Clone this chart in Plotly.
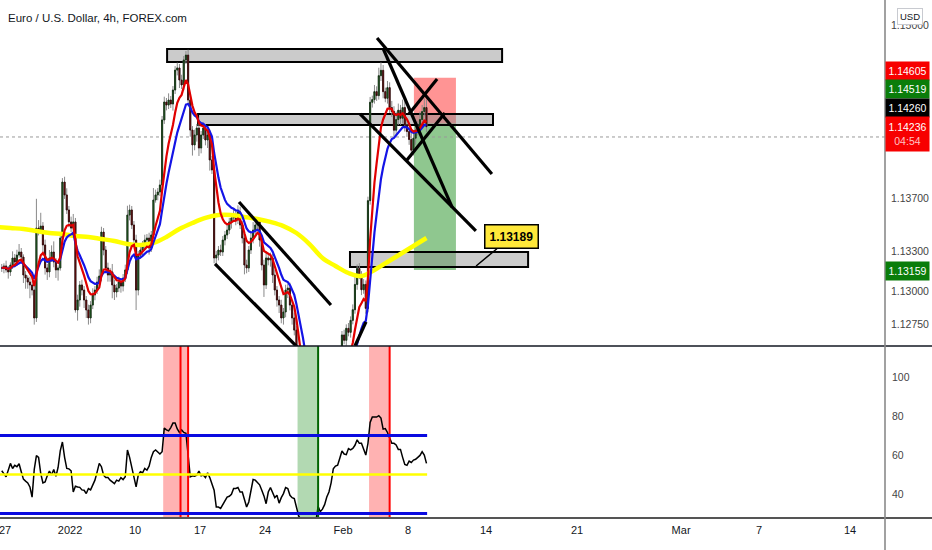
import numpy as np
import plotly.graph_objects as go

# ---------------- data ----------------
FIRST_BAR = -2          # index of first 4h bar (bar 0 = 27 Dec 00:00)
BARS_PER_DAY = 6
PIP = 0.0001

closes = [
    1.13174, 1.13189, 1.13159, 1.13144, 1.13196, 1.13249, 1.13219, 1.13271, 1.13294, 1.13256,
    1.13121, 1.13098, 1.13068, 1.13046, 1.13008, 1.12798, 1.13474, 1.13459, 1.13489, 1.13347,
    1.13174, 1.13144, 1.13249, 1.13294, 1.13219, 1.13159, 1.13174, 1.13399, 1.13820, 1.13723,
    1.13610, 1.13520, 1.13474, 1.13520, 1.12858, 1.12933, 1.13046, 1.13008, 1.12933, 1.12858,
    1.12798, 1.12895, 1.12971, 1.13008, 1.13068, 1.13113, 1.13444, 1.13309, 1.13174, 1.13121,
    1.13144, 1.13046, 1.12993, 1.13023, 1.13068, 1.13038, 1.13098, 1.13159, 1.13572, 1.13610,
    1.13497, 1.13384, 1.13008, 1.13271, 1.13309, 1.13347, 1.13384, 1.13399, 1.13324, 1.13422,
    1.13685, 1.13723, 1.13745, 1.13798, 1.14287, 1.14422, 1.14399, 1.14437, 1.14407, 1.14512,
    1.14662, 1.14678, 1.14587, 1.14550, 1.14738, 1.14775, 1.14437, 1.14211, 1.14099, 1.14174,
    1.14226, 1.14076, 1.14174, 1.14226, 1.14136, 1.14174, 1.13986, 1.13911, 1.13249, 1.13271,
    1.13309, 1.13294, 1.13384, 1.13422, 1.13459, 1.13520, 1.13550, 1.13572, 1.13535, 1.13595,
    1.13497, 1.13399, 1.13196, 1.13174, 1.13309, 1.13399, 1.13459, 1.13497, 1.13520, 1.13384,
    1.13196, 1.13046, 1.13249, 1.13234, 1.13249, 1.13121, 1.13008, 1.12933, 1.12895, 1.12798,
    1.12843, 1.13008, 1.13023, 1.12895, 1.12798, 1.12707, 1.12450, 1.12320, 1.12200, 1.12050,
    1.11900, 1.11720, 1.11600, 1.11450, 1.11500, 1.11350, 1.11250, 1.11400, 1.11500, 1.11450,
    1.11600, 1.11750, 1.11900, 1.12100, 1.12250, 1.12400, 1.12550, 1.12670, 1.12630, 1.12720,
    1.12690, 1.12780, 1.12860, 1.13050, 1.13170, 1.13120, 1.13010, 1.13050, 1.12870, 1.13680,
    1.14420, 1.14440, 1.14500, 1.14470, 1.14620, 1.14660, 1.14500, 1.14450, 1.14530, 1.14380,
    1.14350, 1.14210, 1.14290, 1.14360, 1.14300, 1.14380, 1.14250, 1.14200, 1.14140, 1.14060,
    1.14150, 1.14210, 1.14230, 1.14290, 1.14350, 1.14380, 1.14236,
]

wick_up_pips = [
    3, 2, 4, 3, 2, 5, 3, 4, 6, 3,
    2, 3, 2, 4, 3, 4, 22, 6, 10, 3,
    4, 3, 6, 5, 8, 3, 2, 3, 3, 4,
    5, 3, 4, 6, 3, 4, 3, 4, 3, 3,
    4, 3, 5, 3, 4, 5, 4, 3, 3, 4,
    3, 6, 4, 3, 4, 3, 3, 4, 7, 4,
    3, 3, 4, 3, 5, 3, 4, 3, 4, 3,
    9, 4, 3, 4, 3, 4, 3, 5, 3, 3,
    3, 4, 3, 4, 3, 3, 4, 3, 3, 4,
    3, 4, 3, 4, 3, 3, 4, 3, 4, 3,
    3, 4, 3, 3, 4, 3, 3, 4, 3, 5,
    4, 3, 3, 4, 3, 4, 6, 4, 3, 3,
    3, 4, 5, 3, 4, 3, 4, 3, 3, 4,
    3, 4, 3, 4, 3, 4, 3, 3, 4, 3,
    3, 4, 3, 4, 3, 4, 3, 4, 3, 4,
    3, 4, 3, 4, 3, 4, 3, 3, 4, 3,
    4, 3, 4, 6, 3, 4, 3, 4, 3, 3,
    4, 3, 5, 4, 6, 6, 4, 3, 5, 4,
    5, 4, 6, 5, 4, 6, 5, 4, 6, 5,
    6, 7, 5, 6, 5, 7, 6,
]
wick_dn_pips = [
    3, 4, 2, 5, 3, 3, 4, 3, 2, 4,
    6, 8, 5, 10, 4, 5, 3, 4, 3, 8,
    5, 6, 4, 3, 4, 6, 8, 2, 3, 3,
    3, 4, 3, 3, 2, 8, 5, 4, 6, 6,
    5, 4, 3, 4, 3, 3, 4, 4, 3, 5,
    5, 10, 6, 4, 3, 5, 4, 3, 3, 4,
    3, 4, 15, 4, 3, 4, 3, 3, 5, 3,
    3, 2, 4, 3, 4, 3, 4, 3, 3, 5,
    3, 4, 6, 3, 4, 3, 4, 5, 8, 4,
    5, 6, 4, 3, 4, 6, 8, 3, 4, 4,
    4, 3, 3, 4, 3, 3, 5, 3, 4, 3,
    3, 4, 7, 4, 3, 3, 4, 3, 4, 5,
    4, 9, 3, 4, 5, 6, 4, 5, 6, 4,
    5, 4, 6, 4, 5, 4, 4, 3, 4, 3,
    4, 3, 5, 4, 3, 4, 3, 4, 3, 4,
    4, 3, 4, 3, 4, 3, 4, 5, 3, 4,
    3, 4, 3, 3, 4, 3, 4, 3, 4, 3,
    3, 4, 3, 4, 3, 4, 5, 3, 4, 4,
    4, 5, 4, 4, 5, 4, 5, 4, 4, 5,
    4, 5, 4, 5, 4, 3, 4,
]

rsi_values = [
    51.9, 50.5, 48.8, 52.2, 55.7, 53.1, 54.7, 54.0, 55.5, 51.4,
    47.6, 46.6, 45.7, 43.6, 38.4, 52.6, 59.7, 58.8, 50.5, 45.7,
    46.2, 49.3, 51.7, 49.8, 52.6, 49.1, 53.6, 62.1, 66.7, 58.8,
    53.1, 52.9, 51.9, 41.0, 44.0, 43.6, 43.4, 42.1, 41.9, 40.2,
    42.8, 42.1, 44.5, 47.1, 51.2, 55.7, 54.0, 49.7, 48.4, 48.4,
    47.1, 46.2, 45.3, 47.1, 46.6, 48.4, 47.4, 48.8, 62.6, 58.8,
    53.1, 48.8, 43.6, 49.7, 51.4, 50.9, 53.1, 52.2, 54.3, 58.8,
    61.7, 62.6, 61.4, 60.5, 61.7, 73.8, 72.9, 72.4, 74.1, 76.4,
    76.4, 73.4, 71.6, 72.9, 71.6, 71.2, 60.0, 48.8, 49.3, 49.1,
    49.7, 51.7, 49.3, 49.7, 48.4, 50.9, 48.4, 45.0, 41.9, 33.3,
    33.3, 32.6, 34.5, 36.7, 38.4, 38.8, 39.8, 42.8, 42.8, 43.3,
    41.0, 41.0, 37.1, 33.3, 35.9, 41.6, 47.4, 47.1, 45.9, 44.7,
    41.9, 39.0, 35.0, 41.0, 43.3, 41.0, 38.1, 39.3, 35.3, 38.1,
    40.2, 43.3, 42.8, 39.3, 38.1, 37.6, 32.4, 28.8, 26.7, 24.3,
    22.9, 22.9, 22.9, 23.6, 24.7, 26.0, 33.6, 30.9, 32.2, 34.5,
    38.4, 41.0, 45.7, 52.9, 54.3, 54.8, 58.3, 62.1, 60.5, 60.2,
    63.3, 62.6, 63.4, 65.0, 67.8, 66.0, 66.0, 63.3, 60.0, 66.0,
    76.7, 79.5, 79.5, 79.5, 80.2, 79.0, 73.3, 73.6, 71.6, 69.1,
    66.0, 66.0, 65.2, 62.9, 62.9, 58.8, 55.2, 54.7, 56.9, 56.2,
    57.4, 57.8, 59.0, 59.8, 61.7, 60.0, 55.7,
]

YELLOW_START_BAR = -4
YELLOW_STEP = 6
yellow_ma = [
    1.13482, 1.13474, 1.13467, 1.13452, 1.13437, 1.13429, 1.13414, 1.13407, 1.13392, 1.13377,
    1.13354, 1.13347, 1.13362, 1.13407, 1.13467, 1.13512, 1.13550, 1.13572, 1.13572, 1.13557,
    1.13542, 1.13520, 1.13489, 1.13437, 1.13354, 1.13249, 1.13189, 1.13136, 1.13113, 1.13159,
    1.13219, 1.13279, 1.13339, 1.13399,
]

tick_days = [0, 5, 10, 15, 20, 26, 31, 37, 44, 52, 58, 65]
tick_labels = ["27", "2022", "10", "17", "24", "Feb", "8", "14", "21", "Mar", "7", "14"]
price_ticks = [1.15, 1.137, 1.133, 1.13, 1.1275]
rsi_ticks = [40, 60, 80, 100]

# drawings (bar index, price)
zones = [  # x0, x1, y0, y1
    (74.3, 228.9, 1.14723, 1.14820),
    (88.6, 224.7, 1.14249, 1.14332),
    (158.7, 240.9, 1.13181, 1.13294),
]
position = dict(x0=188.2, x1=207.6, stop=1.14605, entry=1.14260, target=1.13159)
trend_lines = [
    (171.2, 1.14903, 224.2, 1.13880),
    (173.9, 1.14828, 205.8, 1.13632),
    (163.3, 1.14332, 216.8, 1.13452),
    (185.0, 1.13986, 202.5, 1.14339),
    (185.9, 1.14332, 198.9, 1.14595),
    (107.5, 1.13670, 149.9, 1.12895),
    (96.4, 1.13204, 134.3, 1.12580),
    (161.0, 1.12587, 166.1, 1.12768),
]
callout_bar, callout_price = 216.9, 1.13189
prev_close_line = 1.14159
extra_signal_bar = 80.5

axis_labels = [  # price, text, bg, yshift, lines
    (1.14605, "1.14605", "#f70000", 7, 1),
    (1.14519, "1.14519", "#0a7d0a", 0, 1),
    (1.14260, "1.14260", "#000000", 15.5, 1),
    (1.14236, "1.14236<br><span style='color:#ffc4c4'>04:54</span>", "#f70000", -7, 2),
    (1.13159, "1.13159", "#0a7d0a", -1, 1),
]

# ---------------- derived ----------------
bars = np.arange(FIRST_BAR, FIRST_BAR + len(closes))
c = np.array(closes)
o = np.concatenate([[c[0]], c[:-1]])
h = np.maximum(o, c) + np.array(wick_up_pips) * PIP
l = np.minimum(o, c) - np.array(wick_dn_pips) * PIP


def ema(x, n):
    a = 2.0 / (n + 1)
    out = [x[0]]
    for v in x[1:]:
        out.append(out[-1] + a * (v - out[-1]))
    return np.array(out)


ema_fast = ema(c, 8)
ema_slow = ema(c, 14)
yellow_x = YELLOW_START_BAR + YELLOW_STEP * np.arange(len(yellow_ma))

X_RANGE = [-2.806, 405.6]
FONT = "Liberation Sans, Arial, sans-serif"

fig = go.Figure()
fig.add_trace(go.Scatter(x=yellow_x, y=yellow_ma, mode="lines",
                         line=dict(color="#ffff00", width=4.5, shape="spline"),
                         hoverinfo="skip"))
# wicks
fig.add_trace(go.Candlestick(x=bars, open=o, high=h, low=l, close=c,
                             increasing=dict(line=dict(color="#8a8a8a", width=1), fillcolor="#8a8a8a"),
                             decreasing=dict(line=dict(color="#8a8a8a", width=1), fillcolor="#8a8a8a"),
                             whiskerwidth=0, hoverinfo="skip"))
# bodies
fig.add_trace(go.Candlestick(x=bars, open=o, high=np.maximum(o, c), low=np.minimum(o, c), close=c,
                             increasing=dict(line=dict(color="#0e2a0e", width=0.8), fillcolor="#2a7a2a"),
                             decreasing=dict(line=dict(color="#2a0505", width=0.8), fillcolor="#9a1010"),
                             whiskerwidth=0, hoverinfo="skip"))
fig.add_trace(go.Scatter(x=bars, y=ema_slow, mode="lines",
                         line=dict(color="#1414e6", width=2.2), hoverinfo="skip"))
fig.add_trace(go.Scatter(x=bars, y=ema_fast, mode="lines",
                         line=dict(color="#e00000", width=2.2), hoverinfo="skip"))

# RSI pane
fig.add_trace(go.Scatter(x=bars, y=rsi_values, mode="lines", xaxis="x", yaxis="y2",
                         line=dict(color="#000000", width=1.5), hoverinfo="skip"))

shapes = []
rsi = np.array(rsi_values)


def runs(mask):
    res, start = [], None
    for i, m in enumerate(mask):
        if m and start is None:
            start = i
        if not m and start is not None:
            res.append((start, i - 1)); start = None
    if start is not None:
        res.append((start, len(mask) - 1))
    return res


for (s, e) in runs(rsi > 70):
    if e - s >= 3:
        x0, x1 = bars[s] - 0.5, bars[e] + 1.0
        shapes.append(dict(type="rect", xref="x", yref="y2 domain", x0=x0, x1=x1, y0=0, y1=1,
                           fillcolor="rgba(255,0,0,0.3)", line=dict(width=0), layer="below"))
        shapes.append(dict(type="line", xref="x", yref="y2 domain", x0=x1, x1=x1, y0=0, y1=1,
                           line=dict(color="#ff0000", width=2), layer="above"))
for (s, e) in runs(rsi < 30):
    if e - s >= 3:
        x0, x1 = bars[s] - 0.5, bars[e] + 1.0
        shapes.append(dict(type="rect", xref="x", yref="y2 domain", x0=x0, x1=x1, y0=0, y1=1,
                           fillcolor="rgba(0,128,0,0.3)", line=dict(width=0), layer="below"))
        shapes.append(dict(type="line", xref="x", yref="y2 domain", x0=x1, x1=x1, y0=0, y1=1,
                           line=dict(color="#006400", width=2), layer="above"))
shapes.append(dict(type="line", xref="x", yref="y2 domain", x0=extra_signal_bar, x1=extra_signal_bar,
                   y0=0, y1=1, line=dict(color="#ff0000", width=2), layer="above"))
last_bar = bars[-1] + 0.3
for lvl, col, w in [(70, "#0a0ae0", 3), (30, "#0a0ae0", 3), (50, "#ffff00", 2.5)]:
    shapes.append(dict(type="line", xref="x", yref="y2", x0=X_RANGE[0], x1=last_bar, y0=lvl, y1=lvl,
                       line=dict(color=col, width=w), layer="above"))

# position tool
p = position
shapes.append(dict(type="rect", xref="x", yref="y", x0=p["x0"], x1=p["x1"], y0=p["entry"], y1=p["stop"],
                   fillcolor="rgba(255,0,0,0.42)", line=dict(width=0), layer="below"))
shapes.append(dict(type="rect", xref="x", yref="y", x0=p["x0"], x1=p["x1"], y0=p["target"], y1=p["entry"],
                   fillcolor="rgba(0,128,0,0.44)", line=dict(width=0), layer="below"))
for (x0, x1, y0, y1) in zones:
    shapes.append(dict(type="rect", xref="x", yref="y", x0=x0, x1=x1, y0=y0, y1=y1,
                       fillcolor="rgba(140,140,140,0.45)", line=dict(color="#000000", width=2), layer="below"))
shapes.append(dict(type="line", xref="x", yref="y", x0=X_RANGE[0], x1=X_RANGE[1],
                   y0=prev_close_line, y1=prev_close_line,
                   line=dict(color="#9a9a9a", width=1, dash="dot"), layer="below"))
for (x0, y0, x1, y1) in trend_lines:
    shapes.append(dict(type="line", xref="x", yref="y", x0=x0, y0=y0, x1=x1, y1=y1,
                       line=dict(color="#000000", width=3.2), layer="above"))

# frame lines
PLOT_H = 518
shapes.append(dict(type="line", xref="paper", yref="paper", x0=0, x1=932 / 885, y0=0.332, y1=0.332,
                   line=dict(color="#131722", width=1.5)))
shapes.append(dict(type="line", xref="paper", yref="paper", x0=0, x1=932 / 885, y0=0, y1=0,
                   line=dict(color="#555555", width=2)))
shapes.append(dict(type="line", xref="paper", yref="paper", x0=1, x1=1, y0=-32 / PLOT_H, y1=1,
                   line=dict(color="#8a8a8a", width=1.6)))

annotations = []
annotations.append(dict(xref="paper", yref="paper", x=6 / 885, y=(PLOT_H - 18) / PLOT_H,
                        xanchor="left", yanchor="middle", showarrow=False,
                        text="Euro / U.S. Dollar, 4h, FOREX.com",
                        font=dict(family=FONT, size=11.5, color="#131722")))
annotations.append(dict(xref="paper", yref="paper", x=910 / 885, y=(PLOT_H - 16) / PLOT_H,
                        xanchor="center", yanchor="middle", showarrow=False, text="USD",
                        font=dict(family=FONT, size=9.5, color="#131722"), bgcolor="#ffffff",
                        bordercolor="#c8cad0", borderwidth=1, borderpad=2))
for (pr, txt, bg, ys, nl) in axis_labels:
    annotations.append(dict(xref="paper", yref="y", x=1.0, y=pr, xanchor="left", yanchor="middle",
                            yshift=ys, showarrow=False, text=txt, align="center",
                            width=41, height=16 * nl, bgcolor=bg, borderpad=1,
                            font=dict(family=FONT, size=10.5, color="#ffffff")))
annotations.append(dict(xref="x", yref="y", x=callout_bar, y=callout_price, ax=35, ay=-29,
                        showarrow=True, arrowhead=0, arrowwidth=1.5, arrowcolor="#000000",
                        text="<b>1.13189</b>", font=dict(family=FONT, size=12, color="#000000"),
                        bgcolor="#ffe83a", bordercolor="#000000", borderwidth=1.5, borderpad=4))

fig.update_layout(
    width=932, height=550,
    margin=dict(l=0, r=47, t=0, b=32),
    paper_bgcolor="#ffffff", plot_bgcolor="#ffffff",
    showlegend=False, shapes=shapes, annotations=annotations,
    hovermode=False,
    xaxis=dict(domain=[0, 1], range=X_RANGE, anchor="y2",
               tickvals=[BARS_PER_DAY * d - 0.5 for d in tick_days], ticktext=tick_labels,
               showgrid=False, zeroline=False, showline=False, ticks="",
               ticklabelstandoff=4, ticklabeloverflow="allow",
               tickfont=dict(family=FONT, size=11, color="#131722"),
               rangeslider=dict(visible=False), fixedrange=True),
    yaxis=dict(domain=[0.332, 1], range=[1.12587, 1.15189], side="right", anchor="x",
               tickvals=price_ticks, ticktext=[f"{v:.5f}" for v in price_ticks],
               showgrid=False, zeroline=False, showline=False, ticks="",
               ticklabelstandoff=5, ticklabeloverflow="allow",
               tickfont=dict(family=FONT, size=10.5, color="#444444"), fixedrange=True),
    yaxis2=dict(domain=[0, 0.332], range=[27.65, 116], side="right", anchor="x",
                tickvals=rsi_ticks, ticktext=[str(v) for v in rsi_ticks],
                showgrid=False, zeroline=False, showline=False, ticks="",
                ticklabelstandoff=6, ticklabeloverflow="allow",
                tickfont=dict(family=FONT, size=10.5, color="#444444"), fixedrange=True),
)

fig.write_html("out.html",
               config={"displayModeBar": False, "staticPlot": True},
               post_script="document.body.style.margin='0';document.body.style.overflow='hidden';")
